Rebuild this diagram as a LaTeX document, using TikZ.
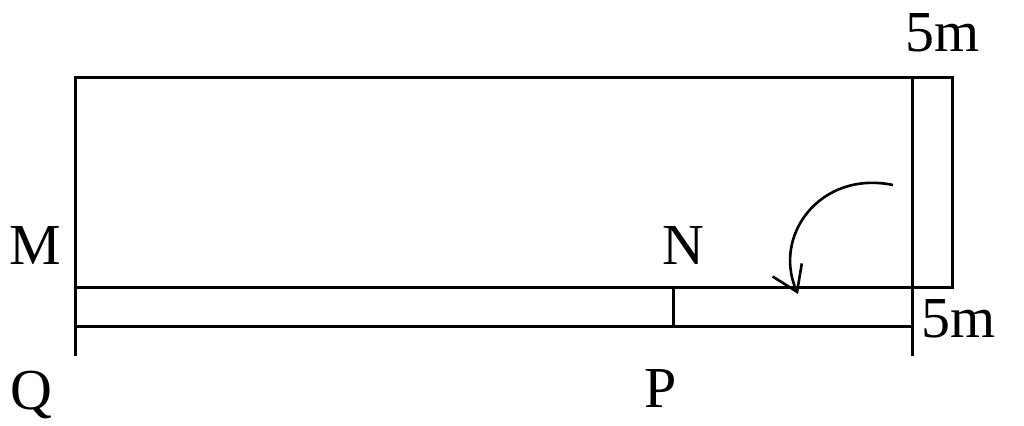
\documentclass[tikz,border=0pt]{standalone}
\usepackage{fontspec}
\setmainfont{Liberation Serif}
\usetikzlibrary{arrows.meta}
\begin{document}
\begin{tikzpicture}[x=0.5pt, y=-0.5pt, line width=1.5pt,
	lbl/.style={anchor=base, inner sep=0pt, font=\fontsize{29}{32}\selectfont}]
	\useasboundingbox (0,0) rectangle (1024,426);
	
	% corners of the field and the paths
	\coordinate (tl) at (75,78);
	\coordinate (tr) at (912,78);
	\coordinate (to) at (952,78);
	\coordinate (ml) at (75,288);
	\coordinate (mr) at (912,288);
	\coordinate (mo) at (952,288);
	\coordinate (bl) at (75,327);
	\coordinate (br) at (912,327);
	\coordinate (qe) at (75,356);
	\coordinate (pe) at (912,356);
	\coordinate (nn) at (673,288);
	\coordinate (pp) at (673,327);
	
	\draw (qe) -- (tl) -- (to) -- (mo) -- (ml);
	\draw (tr) -- (pe);
	\draw (bl) -- (br);
	\draw (nn) -- (pp);
	
	% turning arrow
	\coordinate (ta) at (893,185);
	\coordinate (tb) at (798,294);
	\draw[line width=1.3pt, ->, >={Straight Barb[length=12pt, width=16pt]}] (ta) .. controls (820,170) and (772,236) .. (tb);
	
	\node[lbl] (wt) at (943,52) {5m};
	\node[lbl] (wb) at (959,338) {5m};
	\node[lbl] (m) at (35,265) {M};
	\node[lbl] (n) at (683,265) {N};
	\node[lbl] (q) at (31,410) {Q};
	\node[lbl] (p) at (661,408) {P};
\end{tikzpicture}
\end{document}
